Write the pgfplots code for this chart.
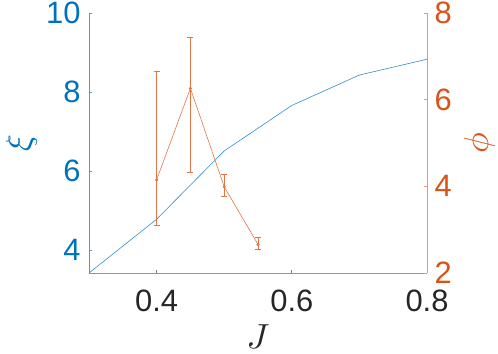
\documentclass[border=0pt]{standalone}
\usepackage{fontspec}
\setmainfont{Liberation Sans}
\usepackage{pgfplots}
\pgfplotsset{compat=1.18}
\definecolor{mblue}{rgb}{0,0.447,0.741}
\definecolor{morange}{rgb}{0.85,0.325,0.098}
\definecolor{mgray}{rgb}{0.15,0.15,0.15}

\begin{document}
\begin{tikzpicture}
\pgfplotsset{
  every axis/.append style={
    scale only axis, width=338bp, height=260bp,
    xmin=0.3, xmax=0.8,
    tick align=inside,
    major tick length=3.5bp,
    ticklabel style={font=\fontsize{31}{31}\selectfont},
    /pgf/number format/assume math mode=true,
  },
}
\begin{axis}[name=ax,
  axis x line*=bottom, axis y line*=left,
  ymin=3.42, ymax=10,
  xtick={0.4,0.6,0.8}, ytick={4,6,8,10},
  x axis line style={mgray!50, -, line width=0.6bp},
  y axis line style={mblue!70, -, line width=0.6bp},
  xtick style={mgray!60, line width=0.6bp},
  ytick style={mblue!70, line width=0.6bp},
  xticklabel style={mgray, yshift=-13bp},
  yticklabel style={mblue, xshift=-5bp},
  xlabel={$J$}, ylabel={$\xi$},
  xlabel style={mgray, scale=3.5, inner sep=0pt,
    at={(axis description cs:0.5,-0.245)}, anchor=center},
  ylabel style={mblue, scale=3.5, inner sep=0pt,
    at={(axis description cs:-0.2,0.5)}, anchor=center},
]
\addplot[mblue!80, line width=0.6bp] coordinates {
  (0.3,3.42) (0.4,4.78) (0.5,6.51) (0.6,7.66) (0.7,8.43) (0.8,8.83)
};
\end{axis}
\begin{axis}[
  axis x line=none, axis y line*=right,
  ymin=2, ymax=8,
  ytick={2,4,6,8},
  y axis line style={morange!60, -, line width=0.6bp},
  ytick style={morange!60, line width=0.6bp},
  yticklabel style={morange, xshift=4bp},
  ylabel={$\phi$},
  ylabel style={morange, scale=3.5, inner sep=0pt,
    at={(axis description cs:1.155,0.5)}, anchor=center},
]
\addplot[morange!80, line width=0.6bp, mark=*, mark size=1.2bp,
  error bars/.cd, y dir=both, y explicit,
  error bar style={morange!80, line width=0.6bp},
  error mark options={rotate=90, morange!80, mark size=3bp, line width=0.6bp}]
  coordinates {
  (0.40,4.15) += (0,2.50) -= (0,1.04)
  (0.45,6.26) += (0,1.18) -= (0,1.94)
  (0.50,3.99) += (0,0.28) -= (0,0.21)
  (0.55,2.66) += (0,0.16) -= (0,0.11)
};
\end{axis}
\pgfresetboundingbox
\path ([xshift=-89bp,yshift=-81bp]ax.south west) rectangle ([xshift=71bp,yshift=13bp]ax.north east);
\end{tikzpicture}
\end{document}
